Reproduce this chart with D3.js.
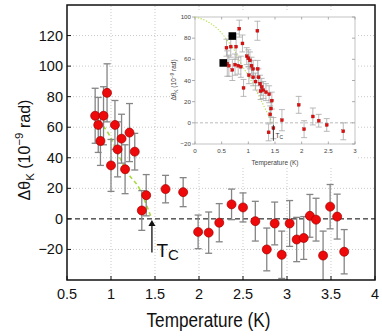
<!DOCTYPE html>
<html><head><meta charset="utf-8">
<script src="https://cdn.jsdelivr.net/npm/d3@7/dist/d3.min.js"></script>
<style>body{margin:0;background:#fff}svg{display:block}text{font-family:"Liberation Sans",Arial,Helvetica,sans-serif}</style>
</head><body><svg id="c" width="382" height="336"></svg>
<script>
// ---- main data ----
const mainT   = [0.82,0.855,0.88,0.915,0.955,1.0,1.045,1.075,1.12,1.16,1.21,1.27,1.35,1.40,1.62,1.82,1.99,2.11,2.23,2.37,2.50,2.64,2.77,2.86,2.94,3.03,3.11,3.19,3.26,3.33,3.41,3.49,3.57,3.65];
const mainV   = [67.5,61.5,51,67.5,82.5,35,61.5,45.5,52.5,32.5,56.5,44,5.5,15.5,19.5,17.5,-8.5,-9,-2.5,9.5,7.5,-1.5,-20,-3,-23.5,-3,-13.5,-12.5,2,-0.5,-24,8,1.5,-21.5];
const mainErr = [18,18,16,19,19,17,16,18,16,16,19,12,13,13.5,9,9.5,11,13.5,12.5,10,9.5,13,14,14,15.5,15,14.5,14,14,14,16,14.5,14.7,14.5];
const fitT = [0.86,0.98,1.10,1.18,1.33,1.41,1.45];
const fitV = [64,55,40,31,19,8,2];
const xTicks = [0.5,1,1.5,2,2.5,3,3.5,4];
const yTicks = [-20,0,20,40,60,80,100,120];
// ---- inset data ----
const insT   = [0.83,1.17,0.59,0.67,0.77,0.89,0.605,0.635,0.70,0.75,0.81,0.86,0.97,1.0,1.03,1.06,1.09,1.175,1.01,1.09,1.135,1.19,0.91,1.22,1.25,1.28,1.23,1.33,1.39,1.44,1.425,1.41,1.47,1.38,1.63,1.945,2.045,2.21,2.32,2.47,2.78];
const insV   = [89,87,71,72,72,75,56,54,50,55,54,53,63,61,59,54,51,51,45,43,39,43,33,37,34,31,30,29,27,21,13.5,8,-5,-9,2.5,17,-6,6,2,-2,-8];
const insErr = [8,9,8,10,12,8,12,10,10,10,8,10,8,8,8,8,8,8,8,8,8,8,8,8,8,8,8,8,8,8,8,8,10,8,10,8,8,8,6,6,8];
const bigT = [0.70,0.53];
const bigV = [82,56.6];
const insFitT = [0,0.22,0.44,0.62,0.75,0.875,1.03,1.16,1.28,1.41,1.45];
const insFitV = [100,96,88,77,67.5,55,42,29.5,17,4,0];
const insXTicks = [0,0.5,1,1.5,2,2.5,3];
const insYTicks = [-20,0,20,40,60,80,100];

const svg = d3.select("#c");
const x = d3.scaleLinear([0.5,4],[67,375]);
const y = d3.scaleLinear([-40,140],[280,5]);

// grid
const g = svg.append("g");
g.selectAll(".gx").data(xTicks.slice(1,-1)).join("line")
 .attr("x1",d=>x(d)).attr("x2",d=>x(d)).attr("y1",y(-40)).attr("y2",y(140))
 .attr("stroke","#bbb").attr("stroke-width",0.8).attr("stroke-dasharray","1,2");
g.selectAll(".gy").data(yTicks.filter(d=>d!==0)).join("line")
 .attr("x1",x(0.5)).attr("x2",x(4)).attr("y1",d=>y(d)).attr("y2",d=>y(d))
 .attr("stroke","#bbb").attr("stroke-width",0.8).attr("stroke-dasharray","1,2");
// zero line
svg.append("line").attr("x1",x(0.5)).attr("x2",x(4)).attr("y1",y(0)).attr("y2",y(0))
 .attr("stroke","#000").attr("stroke-width",1).attr("stroke-dasharray","5,3");
// fit
svg.append("path").datum(fitT.map((t,i)=>[t,fitV[i]]))
 .attr("d",d3.line().x(d=>x(d[0])).y(d=>y(d[1])).curve(d3.curveMonotoneX))
 .attr("fill","none").attr("stroke","#a8d83a").attr("stroke-width",1.6).attr("stroke-dasharray","4,3");
// error bars
const md = mainT.map((t,i)=>({t,v:mainV[i],e:mainErr[i]}));
const eb = svg.append("g").attr("stroke","#858585").attr("stroke-width",1.3).attr("fill","none");
eb.selectAll(".v").data(md).join("line").attr("x1",d=>x(d.t)).attr("x2",d=>x(d.t))
 .attr("y1",d=>Math.min(y(d.v-d.e),280)).attr("y2",d=>y(d.v+d.e));
eb.selectAll(".ct").data(md).join("line").attr("x1",d=>x(d.t)-3.5).attr("x2",d=>x(d.t)+3.5)
 .attr("y1",d=>y(d.v+d.e)).attr("y2",d=>y(d.v+d.e));
eb.selectAll(".cb").data(md.filter(d=>d.v-d.e>-40)).join("line").attr("x1",d=>x(d.t)-3.5).attr("x2",d=>x(d.t)+3.5)
 .attr("y1",d=>y(d.v-d.e)).attr("y2",d=>y(d.v-d.e));
// points
svg.append("g").selectAll("circle").data(md).join("circle")
 .attr("cx",d=>x(d.t)).attr("cy",d=>y(d.v)).attr("r",4.5)
 .attr("fill","#ee0a0a").attr("stroke","#a00000").attr("stroke-width",0.7);

// ---- inset ----
const ins = svg.append("g");
ins.append("rect").attr("x",176).attr("y",12).attr("width",182).attr("height",156).attr("fill","#fff");
const xi = d3.scaleLinear([0,3],[195,355]);
const yi = d3.scaleLinear([-20,100],[144,17]);
ins.append("rect").attr("x",xi(0)).attr("y",yi(100)).attr("width",xi(3)-xi(0)).attr("height",yi(-20)-yi(100))
 .attr("fill","none").attr("stroke","#bdbdbd").attr("stroke-width",0.9);
ins.append("line").attr("x1",xi(0)).attr("x2",xi(3)).attr("y1",yi(0)).attr("y2",yi(0))
 .attr("stroke","#aaa").attr("stroke-width",0.8).attr("stroke-dasharray","3,2");
// ticks
ins.selectAll(".ity").data(insYTicks).join("line").attr("x1",xi(0)-3).attr("x2",xi(0)).attr("y1",d=>yi(d)).attr("y2",d=>yi(d)).attr("stroke","#999").attr("stroke-width",0.8);
ins.selectAll(".ityr").data(insYTicks).join("line").attr("x1",xi(3)-3).attr("x2",xi(3)).attr("y1",d=>yi(d)).attr("y2",d=>yi(d)).attr("stroke","#999").attr("stroke-width",0.8);
ins.selectAll(".itx").data(insXTicks).join("line").attr("x1",d=>xi(d)).attr("x2",d=>xi(d)).attr("y1",yi(-20)).attr("y2",yi(-20)-2.5).attr("stroke","#999").attr("stroke-width",0.8);
ins.selectAll(".itxt").data(insXTicks).join("line").attr("x1",d=>xi(d)).attr("x2",d=>xi(d)).attr("y1",yi(100)).attr("y2",yi(100)+2.5).attr("stroke","#999").attr("stroke-width",0.8);
ins.selectAll(".ily").data(insYTicks).join("text").attr("x",xi(0)-4).attr("y",d=>yi(d)+2).attr("text-anchor","end")
 .attr("font-size",6.2).attr("fill","#444").text(d=>d<0?"−"+(-d):d);
ins.selectAll(".ilx").data(insXTicks).join("text").attr("x",d=>xi(d)).attr("y",yi(-20)+9).attr("text-anchor","middle")
 .attr("font-size",6.2).attr("fill","#444").text(d=>d);
ins.append("text").attr("x",275).attr("y",165).attr("text-anchor","middle").attr("font-size",6.5).attr("fill","#444").text("Temperature (K)");
const iyl = ins.append("text").attr("transform","translate(176,80) rotate(-90)").attr("text-anchor","middle").attr("font-size",6.5).attr("fill","#444");
iyl.append("tspan").text("Δθ");
iyl.append("tspan").attr("font-size",4.8).attr("dy",1.5).text("K");
iyl.append("tspan").attr("dy",-1.5).text(" (10");
iyl.append("tspan").attr("font-size",4.8).attr("dy",-2.5).text("−9");
iyl.append("tspan").attr("dy",2.5).text(" rad)");
// inset fit
ins.append("path").datum(insFitT.map((t,i)=>[t,insFitV[i]]))
 .attr("d",d3.line().x(d=>xi(d[0])).y(d=>yi(d[1])).curve(d3.curveMonotoneX))
 .attr("fill","none").attr("stroke","#b8e04e").attr("stroke-width",1.1).attr("stroke-dasharray","1.3,1.6");
// inset error bars
const id = insT.map((t,i)=>({t,v:insV[i],e:insErr[i]}));
const ieb = ins.append("g").attr("stroke","#a8a8a8").attr("stroke-width",0.8);
ieb.selectAll(".v").data(id).join("line").attr("x1",d=>xi(d.t)).attr("x2",d=>xi(d.t)).attr("y1",d=>yi(d.v-d.e)).attr("y2",d=>yi(d.v+d.e));
ieb.selectAll(".ct").data(id).join("line").attr("x1",d=>xi(d.t)-3).attr("x2",d=>xi(d.t)+3).attr("y1",d=>yi(d.v+d.e)).attr("y2",d=>yi(d.v+d.e));
ieb.selectAll(".cb").data(id).join("line").attr("x1",d=>xi(d.t)-3).attr("x2",d=>xi(d.t)+3).attr("y1",d=>yi(d.v-d.e)).attr("y2",d=>yi(d.v-d.e));
ins.selectAll(".ip").data(id).join("rect").attr("x",d=>xi(d.t)-1.5).attr("y",d=>yi(d.v)-1.5).attr("width",3).attr("height",3)
 .attr("fill","#e01010").attr("stroke","#900").attr("stroke-width",0.3);
ins.selectAll(".bp").data(bigT.map((t,i)=>({t,v:bigV[i]}))).join("rect").attr("x",d=>xi(d.t)-3.8).attr("y",d=>yi(d.v)-3.8).attr("width",7.6).attr("height",7.6).attr("fill","#000");
// inset Tc
ins.append("line").attr("x1",xi(1.47)).attr("x2",xi(1.47)).attr("y1",yi(-2)).attr("y2",yi(-17)).attr("stroke","#222").attr("stroke-width",0.8);
const itc = ins.append("text").attr("x",xi(1.47)+2).attr("y",yi(-14)).attr("font-size",6.5).attr("fill","#333");
itc.append("tspan").text("T");
itc.append("tspan").attr("font-size",5).attr("dy",1.5).text("C");

// ---- frame & axes ----
svg.append("rect").attr("x",x(0.5)).attr("y",y(140)).attr("width",x(4)-x(0.5)).attr("height",y(-40)-y(140))
 .attr("fill","none").attr("stroke","#111").attr("stroke-width",1.5);
svg.selectAll(".ty").data(yTicks).join("line").attr("x1",x(0.5)).attr("x2",x(0.5)+4).attr("y1",d=>y(d)).attr("y2",d=>y(d)).attr("stroke","#111");
svg.selectAll(".tx").data(xTicks).join("line").attr("x1",d=>x(d)).attr("x2",d=>x(d)).attr("y1",y(-40)).attr("y2",y(-40)-4).attr("stroke","#111");
svg.selectAll(".ly").data(yTicks).join("text").attr("x",x(0.5)-4).attr("y",d=>y(d)+5).attr("text-anchor","end")
 .attr("font-size",14.5).attr("fill","#111").text(d=>d<0?"−"+(-d):d);
svg.selectAll(".lx").data(xTicks).join("text").attr("x",d=>x(d)).attr("y",299).attr("text-anchor","middle")
 .attr("font-size",14.5).attr("fill","#111").text(d=>d);
svg.append("text").attr("x",146.5).attr("y",327).attr("font-size",20).attr("textLength",124).attr("lengthAdjust","spacingAndGlyphs")
 .attr("fill","#111").text("Temperature (K)");
const yl = svg.append("text").attr("transform","translate(30,150) rotate(-90)").attr("text-anchor","middle").attr("font-size",16).attr("fill","#111");
yl.append("tspan").text("Δθ");
yl.append("tspan").attr("font-size",11.5).attr("dy",4).text("K");
yl.append("tspan").attr("dy",-4).text(" (10");
yl.append("tspan").attr("font-size",11.5).attr("dy",-7).text("−9");
yl.append("tspan").attr("dy",7).text(" rad)");
// Tc arrow
const ax = x(1.465);
svg.append("line").attr("x1",ax).attr("x2",ax).attr("y1",y(-22)).attr("y2",y(-3)).attr("stroke","#111").attr("stroke-width",1.3);
svg.append("path").attr("d",`M${ax},${y(0)+1}L${ax-3.5},${y(0)+7}L${ax+3.5},${y(0)+7}Z`).attr("fill","#111");
const tc = svg.append("text").attr("x",ax+4.5).attr("y",257).attr("font-size",19).attr("fill","#111");
tc.append("tspan").text("T");
tc.append("tspan").attr("font-size",15).attr("dy",2.5).text("C");
</script></body></html>
